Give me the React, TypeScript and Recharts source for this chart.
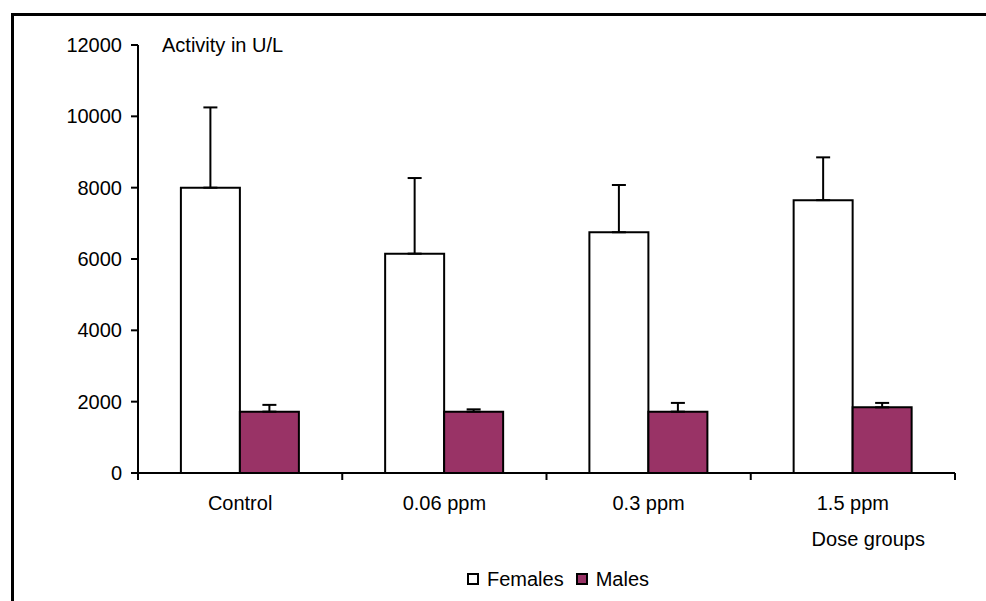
import React from 'react';
import { BarChart, Bar, XAxis, YAxis, ErrorBar, Legend } from 'recharts';

const categories = ['Control', '0.06 ppm', '0.3 ppm', '1.5 ppm'];
const femaleValues = [8000, 6150, 6750, 7650];
const femaleErrors = [2250, 2120, 1325, 1200];
const maleValues = [1720, 1720, 1720, 1840];
const maleErrors = [190, 65, 245, 125];
const yTicks = [0, 2000, 4000, 6000, 8000, 10000, 12000];
const boundaryTicks = [0, 1, 2, 3, 4];
const seriesNames = ['Females', 'Males'];
const seriesColors = ['#ffffff', '#993366'];

const FONT = '"Liberation Sans", Arial, sans-serif';

const data = categories.map((c, i) => ({
  category: c,
  pos: i + 0.5,
  females: femaleValues[i],
  femalesErr: [0, femaleErrors[i]],
  males: maleValues[i],
  malesErr: [0, maleErrors[i]],
}));

const LegendContent = () => (
  <div style={{ display: 'flex', alignItems: 'center', height: 24, fontSize: 20, fontFamily: FONT, color: '#000', whiteSpace: 'nowrap' }}>
    {seriesNames.map((n, i) => (
      <React.Fragment key={n}>
        <span style={{ display: 'inline-block', width: 12, height: 12, border: '2px solid #000', background: seriesColors[i], boxSizing: 'border-box', marginRight: 8 }} />
        <span style={{ marginRight: 12 }}>{n}</span>
      </React.Fragment>
    ))}
  </div>
);

const ActivityLabel = (props: any) => {
  const vb = props.viewBox || {};
  return (
    <text x={vb.x + vb.width + 24} y={vb.y} dominantBaseline="central" fontSize={20} fill="#000" fontFamily={FONT}>
      Activity in U/L
    </text>
  );
};

export default function App() {
  return (
    <div style={{ position: 'absolute', left: 0, top: 0, width: 986, height: 601, overflow: 'hidden', background: '#fff', fontFamily: FONT }}>
      <div style={{ position: 'absolute', left: 11, top: 13, width: 1200, height: 800, borderLeft: '3px solid #000', borderTop: '3px solid #000' }} />
      <BarChart
        width={986}
        height={601}
        data={data}
        margin={{ top: 45, right: 31, left: 0, bottom: 1 }}
        barCategoryGap="21%"
        barGap={0}
      >
        <XAxis
          xAxisId="b"
          dataKey="category"
          height={88}
          interval={0}
          axisLine={false}
          tickLine={false}
          tick={{ fill: '#000', fontSize: 20 }}
          label={{ value: 'Dose groups', position: 'insideBottomRight', offset: 30, fill: '#000', fontSize: 20 }}
        />
        <XAxis
          xAxisId="a"
          type="number"
          dataKey="pos"
          domain={[0, 4]}
          ticks={boundaryTicks}
          allowDataOverflow
          tickFormatter={() => ''}
          height={15}
          tickSize={7}
          axisLine={{ stroke: '#000', strokeWidth: 2 }}
          tickLine={{ stroke: '#000', strokeWidth: 2 }}
        />
        <YAxis
          domain={[0, 12000]}
          ticks={yTicks}
          interval={0}
          width={138}
          tickSize={7}
          tickMargin={9}
          axisLine={{ stroke: '#000', strokeWidth: 2 }}
          tickLine={{ stroke: '#000', strokeWidth: 2 }}
          tick={{ fill: '#000', fontSize: 20 }}
          label={{ content: ActivityLabel }}
        />
        <Legend
          content={LegendContent}
          verticalAlign="bottom"
          wrapperStyle={{ top: 567, left: 467, bottom: 'auto', width: 'auto' }}
        />
        <Bar xAxisId="b" dataKey="females" name={seriesNames[0]} fill={seriesColors[0]} stroke="#000" strokeWidth={2} isAnimationActive={false}>
          <ErrorBar dataKey="femalesErr" width={7} stroke="#000" strokeWidth={2} direction="y" isAnimationActive={false} />
        </Bar>
        <Bar xAxisId="b" dataKey="males" name={seriesNames[1]} fill={seriesColors[1]} stroke="#000" strokeWidth={2} isAnimationActive={false}>
          <ErrorBar dataKey="malesErr" width={7} stroke="#000" strokeWidth={2} direction="y" isAnimationActive={false} />
        </Bar>
      </BarChart>
    </div>
  );
}
